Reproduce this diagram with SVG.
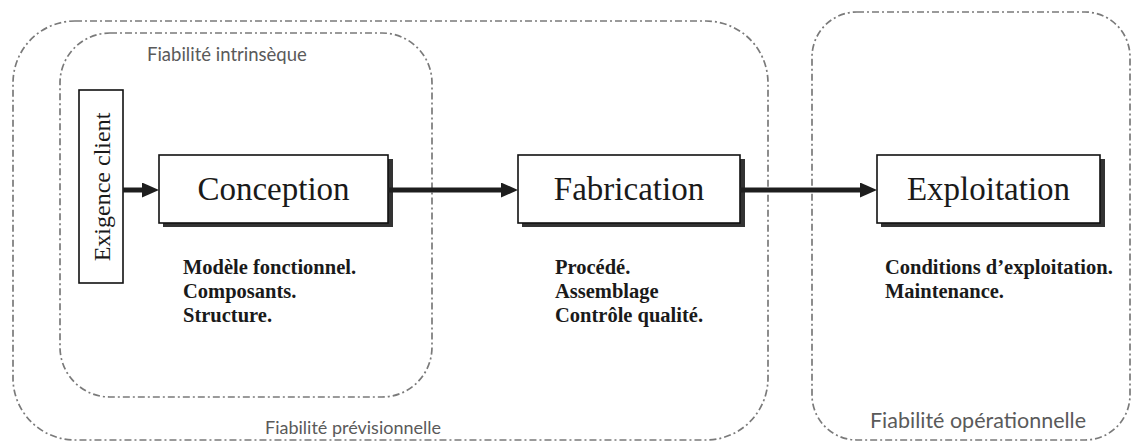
<svg xmlns="http://www.w3.org/2000/svg" width="1133" height="443" viewBox="0 0 1133 443">
  <defs>
    <style>
      .zone { fill: none; stroke: #7a7a7a; stroke-width: 1.7; stroke-dasharray: 7 3 2 3; }
      .zone-label { font-family: Lato, "Liberation Sans", sans-serif; font-size: 18.5px; fill: #5a5a5a; }
      .zone-label.wide { font-size: 21.5px; }
      .zone-label.mid { font-size: 18px; }
      .box { fill: #ffffff; stroke: #111111; stroke-width: 1.6; }
      .shadow { fill: #333333; }
      .title { font-family: "Liberation Serif", "Times New Roman", serif; font-size: 33px; fill: #1a1a1a; text-anchor: middle; }
      .item { font-family: "Liberation Serif", "Times New Roman", serif; font-size: 20.5px; font-weight: bold; fill: #1a1a1a; }
      .vlabel { font-family: "Liberation Serif", "Times New Roman", serif; font-size: 24px; fill: #1a1a1a; text-anchor: middle; }
      .flow { stroke: #1e1e1e; stroke-width: 5; fill: none; }
    </style>
    <marker id="head" viewBox="0 0 17 15" markerWidth="17" markerHeight="15" refX="0" refY="7.5" orient="auto" markerUnits="userSpaceOnUse">
      <path d="M0,0 L17,7.5 L0,15 z" fill="#1e1e1e"/>
    </marker>
  </defs>

  <rect width="1133" height="443" fill="#ffffff"/>

  <!-- reliability zones -->
  <g id="zone-previsionnelle">
    <rect class="zone" x="13" y="21" width="755" height="419" rx="62" ry="62"/>
    <text class="zone-label mid" x="265" y="434">Fiabilité prévisionnelle</text>
  </g>
  <g id="zone-intrinseque">
    <rect class="zone" x="60" y="33" width="372" height="364" rx="50" ry="50"/>
    <text class="zone-label" x="147" y="61">Fiabilité intrinsèque</text>
  </g>
  <g id="zone-operationnelle">
    <rect class="zone" x="812" y="12" width="318" height="428" rx="45" ry="45"/>
    <text class="zone-label wide" x="870" y="428">Fiabilité opérationnelle</text>
  </g>

  <!-- input -->
  <g id="exigence-client">
    <rect class="box" x="79" y="90" width="44" height="193"/>
    <text class="vlabel" transform="translate(110,187) rotate(-90)">Exigence client</text>
  </g>

  <!-- phases -->
  <g id="conception">
    <rect class="shadow" x="163" y="159" width="230" height="68"/>
    <rect class="box" x="159" y="155" width="229" height="68"/>
    <text class="title" x="273.5" y="200">Conception</text>
    <text class="item" x="183" y="274">Modèle fonctionnel.</text>
    <text class="item" x="183" y="298">Composants.</text>
    <text class="item" x="183" y="322">Structure.</text>
  </g>
  <g id="fabrication">
    <rect class="shadow" x="522" y="159" width="223" height="68"/>
    <rect class="box" x="518" y="155" width="222" height="68"/>
    <text class="title" x="629" y="200">Fabrication</text>
    <text class="item" x="555" y="274">Procédé.</text>
    <text class="item" x="555" y="298">Assemblage</text>
    <text class="item" x="555" y="322">Contrôle qualité.</text>
  </g>
  <g id="exploitation">
    <rect class="shadow" x="881" y="159" width="224" height="68"/>
    <rect class="box" x="877" y="155" width="223" height="68"/>
    <text class="title" x="988.5" y="200">Exploitation</text>
    <text class="item" x="885" y="274">Conditions d’exploitation.</text>
    <text class="item" x="885" y="298">Maintenance.</text>
  </g>

  <!-- flow connectors -->
  <g id="connectors">
    <line class="flow" x1="123" y1="190" x2="142" y2="190" marker-end="url(#head)"/>
    <line class="flow" x1="388" y1="190" x2="501" y2="190" marker-end="url(#head)"/>
    <line class="flow" x1="740" y1="190" x2="860" y2="190" marker-end="url(#head)"/>
  </g>
</svg>
